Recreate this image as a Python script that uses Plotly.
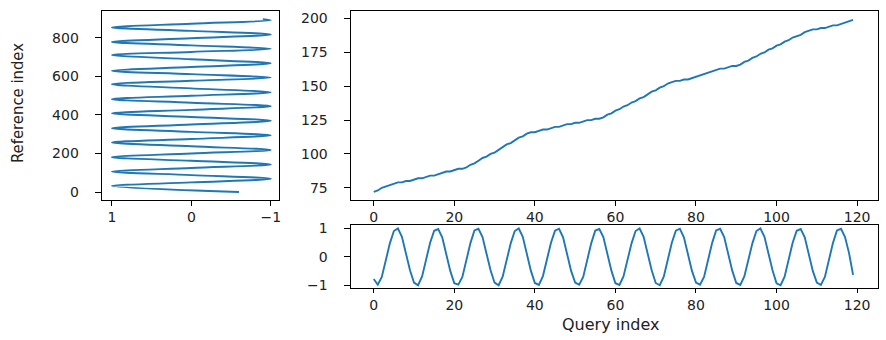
import plotly.graph_objects as go

# ---------------- data ----------------
# Reference signal (key points: peaks, troughs and zero crossings)
ref_index = [0, 31, 50, 69, 88, 106, 125, 143, 162, 181,
             200, 218, 237, 257, 275, 294, 312, 331, 350, 370,
             389, 408, 426, 445, 463, 481, 499, 517, 537, 559,
             577, 593, 611, 628, 648, 667, 688, 710, 726, 742,
             760, 778, 797, 816, 835, 853, 872, 890, 896]
ref_value = [-0.6, 1, 0, -1, 0, 1, 0, -1, 0, 1,
             0, -1, 0, 1, 0, -1, 0, 1, 0, -1,
             0, 1, 0, -1, 0, 1, 0, -1, 0, 1,
             0, -1, 0, 1, 0, -1, 0, 1, 0, -1,
             0, 1, 0, -1, 0, 1, 0, -1, -0.9]

# Query signal (120 samples)
query_index = list(range(120))
query_value = [
    -0.77,
    -0.97, -0.70, -0.12, 0.47, 0.90, 0.99, 0.70, 0.14, -0.47, -0.90,
    -0.99, -0.68, -0.14, 0.49, 0.91, 0.97, 0.68, 0.12, -0.49, -0.92,
    -0.97, -0.70, -0.11, 0.48, 0.92, 0.98, 0.69, 0.13, -0.47, -0.90,
    -0.99, -0.69, -0.14, 0.47, 0.90, 0.99, 0.70, 0.12, -0.48, -0.91,
    -0.98, -0.67, -0.13, 0.49, 0.91, 0.98, 0.68, 0.14, -0.49, -0.90,
    -0.97, -0.70, -0.12, 0.48, 0.92, 0.97, 0.69, 0.13, -0.48, -0.92,
    -0.98, -0.68, -0.14, 0.47, 0.90, 0.99, 0.70, 0.12, -0.47, -0.91,
    -0.99, -0.69, -0.13, 0.49, 0.91, 0.98, 0.68, 0.13, -0.49, -0.90,
    -0.97, -0.70, -0.12, 0.48, 0.92, 0.98, 0.69, 0.14, -0.48, -0.91,
    -0.98, -0.68, -0.13, 0.47, 0.90, 0.99, 0.70, 0.12, -0.47, -0.92,
    -0.99, -0.69, -0.14, 0.49, 0.91, 0.97, 0.68, 0.13, -0.49, -0.90,
    -0.98, -0.70, -0.12, 0.48, 0.92, 0.98, 0.69, 0.13, -0.63,
]

# Warping path: matched reference index for each query index
path_ref = [
    72, 73, 75, 76, 77, 78, 79, 79, 80, 80,
    81, 82, 82, 83, 84, 84, 85, 86, 87, 87,
    88, 89, 89, 90, 92, 93, 95, 97, 98, 100,
    101, 103, 105, 107, 108, 110, 112, 113, 115, 116,
    116, 117, 118, 118, 119, 120, 120, 121, 122, 122,
    123, 123, 124, 125, 125, 126, 126, 127, 129, 130,
    132, 133, 135, 136, 138, 139, 141, 142, 144, 146,
    147, 149, 150, 152, 153, 154, 154, 155, 155, 156,
    157, 158, 159, 160, 161, 162, 163, 163, 164, 165,
    165, 166, 168, 169, 171, 172, 174, 175, 177, 178,
    180, 181, 183, 184, 186, 187, 188, 190, 191, 192,
    192, 193, 193, 194, 195, 195, 196, 197, 198, 199,
]

ref_ticks = [0, 200, 400, 600, 800]
val_ticks_left = [1, 0, -1]
query_ticks = [0, 20, 40, 60, 80, 100, 120]
path_ticks = [75, 100, 125, 150, 175, 200]
val_ticks = [-1, 0, 1]

# ---------------- layout helpers ----------------
W, H = 886, 340
BLUE = "#1f77b4"
TXT = "#222222"
FONT = "DejaVu Sans"


def xdom(a, b):
    return [a / W, b / W]


def ydom(top, bottom):
    return [1 - bottom / H, 1 - top / H]


def axis_style(**kw):
    d = dict(showline=True, mirror=True, linecolor="#000000", linewidth=1,
             ticks="outside", ticklen=5, tickwidth=1, tickcolor="#000000",
             showgrid=False, zeroline=False,
             tickfont=dict(family=FONT, size=14, color=TXT))
    d.update(kw)
    return d


fig = go.Figure()
fig.add_trace(go.Scatter(x=ref_value, y=ref_index, mode="lines",
                         line=dict(color=BLUE, width=1.9, shape="spline", smoothing=1),
                         xaxis="x", yaxis="y", hoverinfo="skip"))
fig.add_trace(go.Scatter(x=query_index, y=path_ref, mode="lines",
                         line=dict(color=BLUE, width=1.9),
                         xaxis="x2", yaxis="y2", hoverinfo="skip"))
fig.add_trace(go.Scatter(x=query_index, y=query_value, mode="lines",
                         line=dict(color=BLUE, width=1.9),
                         xaxis="x3", yaxis="y3", hoverinfo="skip"))

fig.update_layout(
    width=W, height=H, margin=dict(l=0, r=0, t=0, b=0),
    paper_bgcolor="white", plot_bgcolor="white", showlegend=False,
    xaxis=axis_style(domain=xdom(102, 279.5), range=[1.129, -1.098], anchor="y",
                     tickvals=val_ticks_left, ticklabelstandoff=0),
    yaxis=axis_style(domain=ydom(6, 200.5), range=[-39, 939], anchor="x",
                     tickvals=ref_ticks, ticklabelstandoff=13, ticklen=6),
    xaxis2=axis_style(domain=xdom(351.7, 881), range=[-5.77, 125.19], anchor="y2",
                      tickvals=query_ticks, ticklabelstandoff=0),
    yaxis2=axis_style(domain=ydom(6, 200.5), range=[66.25, 205.74], anchor="x2",
                      tickvals=path_ticks, ticklabelstandoff=13, ticklen=6),
    xaxis3=axis_style(domain=xdom(351.7, 881), range=[-5.77, 125.19], anchor="y3",
                      tickvals=query_ticks, ticklabelstandoff=0, ticklen=4),
    yaxis3=axis_style(domain=ydom(226.7, 291.7), range=[-1.09, 1.11], anchor="x3",
                      tickvals=val_ticks, ticklabelstandoff=13, ticklen=6),
    annotations=[
        dict(text="Reference index", xref="paper", yref="paper",
             x=17 / W, y=1 - 101 / H, xanchor="center", yanchor="middle",
             textangle=-90, showarrow=False,
             font=dict(family="Liberation Sans Narrow, DejaVu Sans Condensed, DejaVu Sans",
                       size=16.5, color=TXT)),
        dict(text="Query index", xref="paper", yref="paper",
             x=613 / W, y=1 - 329 / H, xanchor="center", yanchor="middle",
             showarrow=False, borderpad=0,
             font=dict(family=FONT, size=16, color=TXT)),
    ],
)

fig.write_html("out.html")
